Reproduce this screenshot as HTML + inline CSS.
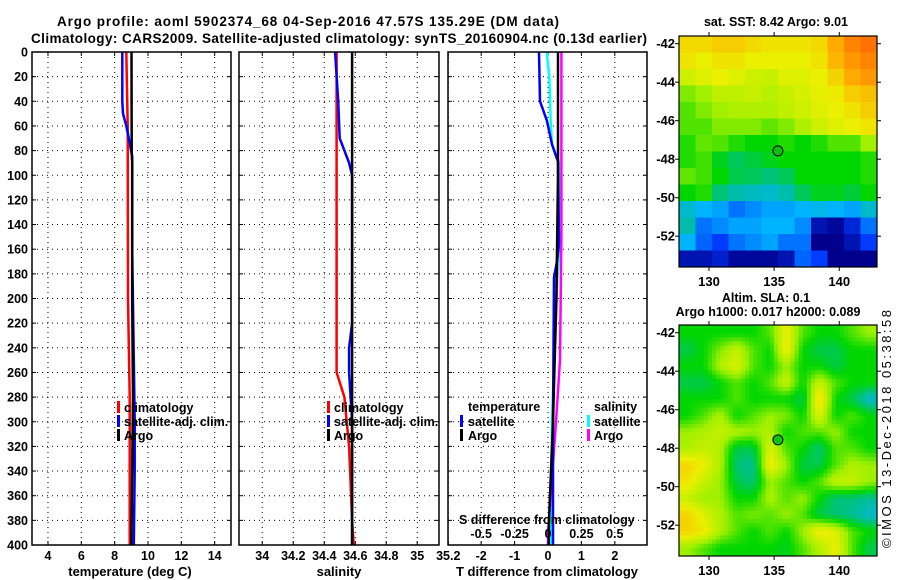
<!DOCTYPE html>
<html><head><meta charset="utf-8"><style>
html,body{margin:0;padding:0;background:#fff;}
svg{display:block;font-family:"Liberation Sans",sans-serif;font-weight:bold;}
</style></head><body>
<svg id="fig" width="900" height="580" viewBox="0 0 900 580" xmlns="http://www.w3.org/2000/svg">
<rect width="900" height="580" fill="#fff"/>
<text x="308" y="26" font-size="13.5" text-anchor="middle" textLength="502">Argo profile: aoml 5902374_68 04-Sep-2016 47.57S 135.29E (DM data)</text>
<text x="339" y="43" font-size="13.5" text-anchor="middle" textLength="616">Climatology: CARS2009. Satellite-adjusted climatology: synTS_20160904.nc (0.13d earlier)</text>
<g id="panels"></g>
<g id="maps"></g>
<text transform="translate(891,548) rotate(-90)" font-size="13" font-weight="normal" textLength="238">©IMOS 13-Dec-2018 05:38:58</text>
</svg>
<script>
// ---- profile data (depth in m) ----
const depthTicks = [0,20,40,60,80,100,120,140,160,180,200,220,240,260,280,300,320,340,360,380,400];
const tTicks = [4,6,8,10,12,14];
const sTicks = [34,34.2,34.4,34.6,34.8,35,35.2];
const dTicks = [-2,-1,0,1,2];
const sdTickLabels = ["-0.5","-0.25","0","0.25","0.5"];
const sdTickValues = [-0.5,-0.25,0,0.25,0.5];

const argoTDepth = [0,80,90,200,280,340,400];
const argoTVal   = [9.01,9.02,9.05,9.05,9.1,9.05,9.0];
const climTDepth = [0,60,200,280,400];
const climTVal   = [8.7,8.78,8.8,8.9,8.9];
const satTDepth  = [0,40,50,60,70,85,160,300,340,400];
const satTVal    = [8.46,8.46,8.5,8.7,8.85,9.05,9.05,9.2,9.2,9.15];

const argoSDepth = [0,90,200,300,400];
const argoSVal   = [34.58,34.58,34.58,34.58,34.58];
const climSDepth = [0,260,280,320,380,400];
const climSVal   = [34.48,34.48,34.53,34.56,34.58,34.59];
const satSDepth  = [0,40,70,80,90,100,220,240,260,300,400];
const satSVal    = [34.47,34.49,34.5,34.53,34.56,34.58,34.58,34.56,34.56,34.58,34.58];

const dSatTDepth = [0,40,56,75,89,156,170,183,300,380,400];
const dSatTVal   = [-0.27,-0.24,-0.03,0.12,0.3,0.33,0.27,0.18,0.15,0.15,0.15];
const dArgoTDepth= [0,100,200,300,380,400];
const dArgoTVal  = [0.3,0.3,0.25,0.15,0.03,0.02];
const dSatSDepth = [0,20,56,75,89,150,183,300,390,400];
const dSatSVal   = [-0.01,0.01,0.02,0.03,0.08,0.09,0.07,0.03,0.02,0.02];
const dArgoSDepth= [0,150,250,300,390,400];
const dArgoSVal  = [0.1,0.1,0.09,0.06,0.0,0.0];

const NS="http://www.w3.org/2000/svg";
function mk(tag,attrs,parent){const e=document.createElementNS(NS,tag);for(const k in attrs)e.setAttribute(k,attrs[k]);parent.appendChild(e);return e;}
const panels=document.getElementById('panels');
const yD = d => 52 + d*1.2325;

function linePath(depths, vals, xf){
  return depths.map((d,i)=>(i?'L':'M')+xf(vals[i]).toFixed(1)+','+yD(d).toFixed(1)).join('');
}
function drawPanel(name,x0,x1,xf,ticks,labels,showY){
  const g=mk('g',{},panels);
  
  
  depthTicks.forEach((d,i)=>{
    if(i>0&&i<depthTicks.length-1){const l=mk('line',{x1:x0,x2:x1,y1:yD(d),y2:yD(d),stroke:'#000','stroke-width':1,'stroke-dasharray':'1,4'},g);
    }
    mk('line',{x1:x0,x2:x0+4,y1:yD(d),y2:yD(d),stroke:'#000'},g);
    mk('line',{x1:x1-4,x2:x1,y1:yD(d),y2:yD(d),stroke:'#000'},g);
    if(showY){const t=mk('text',{x:28,y:yD(d)+4.5,'font-size':12.5,'text-anchor':'end'},g);t.textContent=d;
      }
  });
  ticks.forEach((v,i)=>{
    const x=xf(v);
    const l=mk('line',{x1:x,x2:x,y1:52,y2:545,stroke:'#000','stroke-width':1,'stroke-dasharray':'1,4'},g);
    
    mk('line',{x1:x,x2:x,y1:52,y2:56,stroke:'#000'},g);
    mk('line',{x1:x,x2:x,y1:541,y2:545,stroke:'#000'},g);
    const t=mk('text',{x:x,y:560,'font-size':12.5,'text-anchor':'middle'},g);t.textContent=labels[i];
    
  });
  return g;
}
function line(g,name,depths,vals,xf,color){
  const p=mk('path',{d:linePath(depths,vals,xf),fill:'none',stroke:color,'stroke-width':2.5},g);
  
  
}
function txt(g,name,x,y,s,size,anchor){
  const t=mk('text',{x:x,y:y,'font-size':size||12.5,'text-anchor':anchor||'start'},g);t.textContent=s;
  
  
}
function bar(g,name,x,y,color){
  const r=mk('rect',{x:x,y:y,width:3,height:12,fill:color},g);
  
  
}
// Panel 1 temperature
const xT=v=>31.3+(v-3)*16.67;
let g1=drawPanel('temperature-panel',32,231,xT,tTicks,tTicks.map(String),true);
line(g1,'clim-temperature-line',climTDepth,climTVal,xT,'#f00');
line(g1,'sat-temperature-line',satTDepth,satTVal,xT,'#00f');
line(g1,'argo-temperature-line',argoTDepth,argoTVal,xT,'#000');
bar(g1,'legend-clim-swatch',117,401,'#f00');txt(g1,'legend-climatology',124,412,'climatology');
bar(g1,'legend-sat-swatch',117,415,'#00f');txt(g1,'legend-satellite-adj',124,426,'satellite-adj. clim.');
bar(g1,'legend-argo-swatch',117,429,'#000');txt(g1,'legend-argo',124,440,'Argo');
txt(g1,'x-axis-title-temperature',130,576,'temperature (deg C)',13,'middle');
// Panel 2 salinity
const xS=v=>239+(v-33.85)*155;
let g2=drawPanel('salinity-panel',239,439,xS,sTicks,sTicks.map(String),false);
line(g2,'clim-salinity-line',climSDepth,climSVal,xS,'#f00');
line(g2,'sat-salinity-line',satSDepth,satSVal,xS,'#00f');
line(g2,'argo-salinity-line',argoSDepth,argoSVal,xS,'#000');
bar(g2,'legend-clim-swatch',327,401,'#f00');txt(g2,'legend-climatology',334,412,'climatology');
bar(g2,'legend-sat-swatch',327,415,'#00f');txt(g2,'legend-satellite-adj',334,426,'satellite-adj. clim.');
bar(g2,'legend-argo-swatch',327,429,'#000');txt(g2,'legend-argo',334,440,'Argo');
txt(g2,'x-axis-title-salinity',339,576,'salinity',13,'middle');
// Panel 3 differences
const xD=v=>548+v*33.4;
const xSD=v=>548+v*133.6;
let g3=drawPanel('difference-panel',448,647,xD,dTicks,dTicks.map(String),false);
line(g3,'sat-salinity-diff-line',dSatSDepth,dSatSVal,xSD,'#0ff');
line(g3,'argo-salinity-diff-line',dArgoSDepth,dArgoSVal,xSD,'#f0f');
line(g3,'sat-temperature-diff-line',dSatTDepth,dSatTVal,xD,'#00f');
line(g3,'argo-temperature-diff-line',dArgoTDepth,dArgoTVal,xD,'#000');
txt(g3,'legend-temperature-header',468,411,'temperature');
bar(g3,'legend-sat-t-swatch',460,415,'#00f');txt(g3,'legend-sat-t',468,426,'satellite');
bar(g3,'legend-argo-t-swatch',460,429,'#000');txt(g3,'legend-argo-t',468,440,'Argo');
txt(g3,'legend-salinity-header',594,411,'salinity');
bar(g3,'legend-sat-s-swatch',587,415,'#0ff');txt(g3,'legend-sat-s',594,426,'satellite');
bar(g3,'legend-argo-s-swatch',587,429,'#f0f');txt(g3,'legend-argo-s',594,440,'Argo');
txt(g3,'s-diff-axis-title',459,524,'S difference from climatology');
sdTickValues.forEach((v,i)=>{txt(g3,'s-diff-tick-label',xSD(v),538,sdTickLabels[i],12.5,'middle');});
txt(g3,'x-axis-title-tdiff',547,576,'T difference from climatology',13,'middle');
[[32,231],[239,439],[448,647]].forEach(p=>{
  const r=mk('rect',{x:p[0],y:52,width:p[1]-p[0],height:493,fill:'none',stroke:'#000','stroke-width':1.5},panels);
  
});

// ---- maps ----
const sstGrid = [
[0.74,0.74,0.76,0.76,0.74,0.72,0.72,0.72,0.74,0.82,0.86,0.88],
[0.72,0.7,0.72,0.72,0.7,0.7,0.7,0.7,0.72,0.8,0.84,0.86],
[0.66,0.68,0.7,0.68,0.66,0.65,0.68,0.68,0.7,0.75,0.82,0.84],
[0.58,0.6,0.64,0.64,0.65,0.63,0.65,0.67,0.69,0.71,0.76,0.78],
[0.55,0.58,0.6,0.62,0.62,0.62,0.64,0.66,0.68,0.7,0.72,0.76],
[0.55,0.55,0.58,0.58,0.58,0.56,0.58,0.62,0.66,0.68,0.7,0.72],
[0.52,0.56,0.55,0.52,0.5,0.5,0.52,0.5,0.52,0.55,0.55,0.6],
[0.52,0.54,0.48,0.44,0.46,0.48,0.5,0.5,0.5,0.5,0.5,0.52],
[0.56,0.54,0.5,0.45,0.44,0.42,0.44,0.5,0.5,0.5,0.5,0.52],
[0.5,0.52,0.42,0.38,0.36,0.35,0.38,0.44,0.48,0.48,0.46,0.5],
[0.35,0.3,0.28,0.22,0.25,0.28,0.28,0.3,0.32,0.3,0.28,0.35],
[0.38,0.22,0.25,0.28,0.28,0.3,0.3,0.25,0.05,0.02,0.1,0.22],
[0.3,0.2,0.15,0.22,0.25,0.28,0.22,0.22,0.0,0.0,0.05,0.15],
[0.05,0.05,0.08,0.02,0.02,0.02,0.05,0.2,0.15,0.0,0.0,0.0]];
const slaGrid = [
[0.5,0.5,0.5,0.5,0.5,0.55,0.7,0.55,0.5,0.5,0.55,0.6],
[0.45,0.5,0.58,0.65,0.55,0.5,0.72,0.5,0.45,0.45,0.5,0.5],
[0.5,0.5,0.62,0.68,0.55,0.5,0.6,0.5,0.5,0.45,0.5,0.5],
[0.45,0.45,0.5,0.55,0.5,0.55,0.65,0.5,0.65,0.55,0.5,0.5],
[0.5,0.5,0.5,0.55,0.5,0.5,0.5,0.45,0.75,0.5,0.45,0.35],
[0.5,0.55,0.62,0.5,0.55,0.6,0.58,0.5,0.68,0.5,0.55,0.5],
[0.6,0.62,0.65,0.62,0.6,0.62,0.5,0.55,0.55,0.6,0.5,0.5],
[0.62,0.65,0.62,0.45,0.45,0.68,0.55,0.5,0.42,0.55,0.55,0.5],
[0.75,0.7,0.62,0.42,0.4,0.72,0.6,0.45,0.45,0.55,0.62,0.6],
[0.72,0.65,0.6,0.45,0.42,0.6,0.55,0.5,0.55,0.65,0.65,0.6],
[0.65,0.6,0.6,0.5,0.5,0.62,0.55,0.6,0.5,0.42,0.42,0.4],
[0.75,0.68,0.62,0.55,0.58,0.55,0.6,0.55,0.45,0.42,0.4,0.35],
[0.75,0.72,0.62,0.55,0.5,0.55,0.5,0.6,0.72,0.68,0.55,0.5],
[0.6,0.55,0.5,0.5,0.5,0.5,0.48,0.55,0.62,0.7,0.55,0.45]];
const lonTicks=[130,135,140];
const latTicks=[-42,-44,-46,-48,-50,-52];
const argoLon=135.29, argoLat=-47.57;
const stops=[[0,[0,0,140]],[0.15,[0,60,255]],[0.3,[0,180,255]],[0.4,[0,190,150]],[0.5,[0,215,0]],[0.6,[160,240,0]],[0.7,[235,240,0]],[0.82,[255,170,0]],[1,[255,0,0]]];
function cmap(v){v=Math.max(0,Math.min(1,v));for(let i=1;i<stops.length;i++){if(v<=stops[i][0]){const a=stops[i-1],b=stops[i],t=(v-a[0])/(b[0]-a[0]);return 'rgb('+a[1].map((c,k)=>Math.round(c+(b[1][k]-c)*t)).join(',')+')';}}return 'rgb(255,0,0)';}
const maps=document.getElementById('maps');
function drawMap(name,grid,top,smooth,titles){
  const g=mk('g',{},maps);
  
  
  const L=679,R=877,H=231,W=R-L,rows=grid.length,cols=grid[0].length;
  const lonX=lon=>L+(lon-127.7)*13.03;
  const latY=lat=>top+(-41.6-lat)*19.25;
  if(!smooth){
    const cw=W/cols,ch=H/rows;
    grid.forEach((row,r)=>row.forEach((v,c)=>{const e=mk('rect',{x:L+c*cw,y:top+r*ch,width:cw+0.5,height:ch+0.5,fill:cmap(v)},g);
      }));
  } else {
    const f=4,nr=rows*f,nc=cols*f,cw=W/nc,ch=H/nr;
    for(let r=0;r<nr;r++)for(let c=0;c<nc;c++){
      const gy=Math.min(rows-1,Math.max(0,(r+0.5)/f-0.5)),gx=Math.min(cols-1,Math.max(0,(c+0.5)/f-0.5));
      const y0=Math.floor(gy),x0=Math.floor(gx),y1=Math.min(rows-1,y0+1),x1=Math.min(cols-1,x0+1),ty=gy-y0,tx=gx-x0;
      const v=grid[y0][x0]*(1-tx)*(1-ty)+grid[y0][x1]*tx*(1-ty)+grid[y1][x0]*(1-tx)*ty+grid[y1][x1]*tx*ty;
      const e=mk('rect',{x:L+c*cw,y:top+r*ch,width:cw+0.5,height:ch+0.5,fill:cmap(v)},g);
      
    }
  }
  const fr=mk('rect',{x:L,y:top,width:W,height:H,fill:'none',stroke:'#000','stroke-width':1.2},g);
  
  lonTicks.forEach(lon=>{const x=lonX(lon);mk('line',{x1:x,x2:x,y1:top-4,y2:top,stroke:'#000'},g);mk('line',{x1:x,x2:x,y1:top+H,y2:top+H+4,stroke:'#000'},g);
    txt(g,'lon-tick-label',x,top+H+19,String(lon),13,'middle');});
  latTicks.forEach(lat=>{const y=latY(lat);mk('line',{x1:L-4,x2:L,y1:y,y2:y,stroke:'#000'},g);mk('line',{x1:R,x2:R+4,y1:y,y2:y,stroke:'#000'},g);
    txt(g,'lat-tick-label',L-4,y+4.5,String(lat),13,'end');});
  const m=mk('circle',{cx:lonX(argoLon),cy:latY(argoLat),r:5,fill:'#10c010',stroke:'#000','stroke-width':1},g);
  
  titles.forEach(t=>txt(g,t[0],t[1],t[2],t[3],12.5,'middle'));
}
drawMap('sst-map',sstGrid,36,false,[['sst-map-title',776,26,'sat. SST: 8.42 Argo: 9.01']]);
drawMap('sla-map',slaGrid,325,true,[['sla-map-title',766,302,'Altim. SLA: 0.1'],['sla-map-subtitle',768,316,'Argo h1000: 0.017 h2000: 0.089']]);
</script>
</body></html>
